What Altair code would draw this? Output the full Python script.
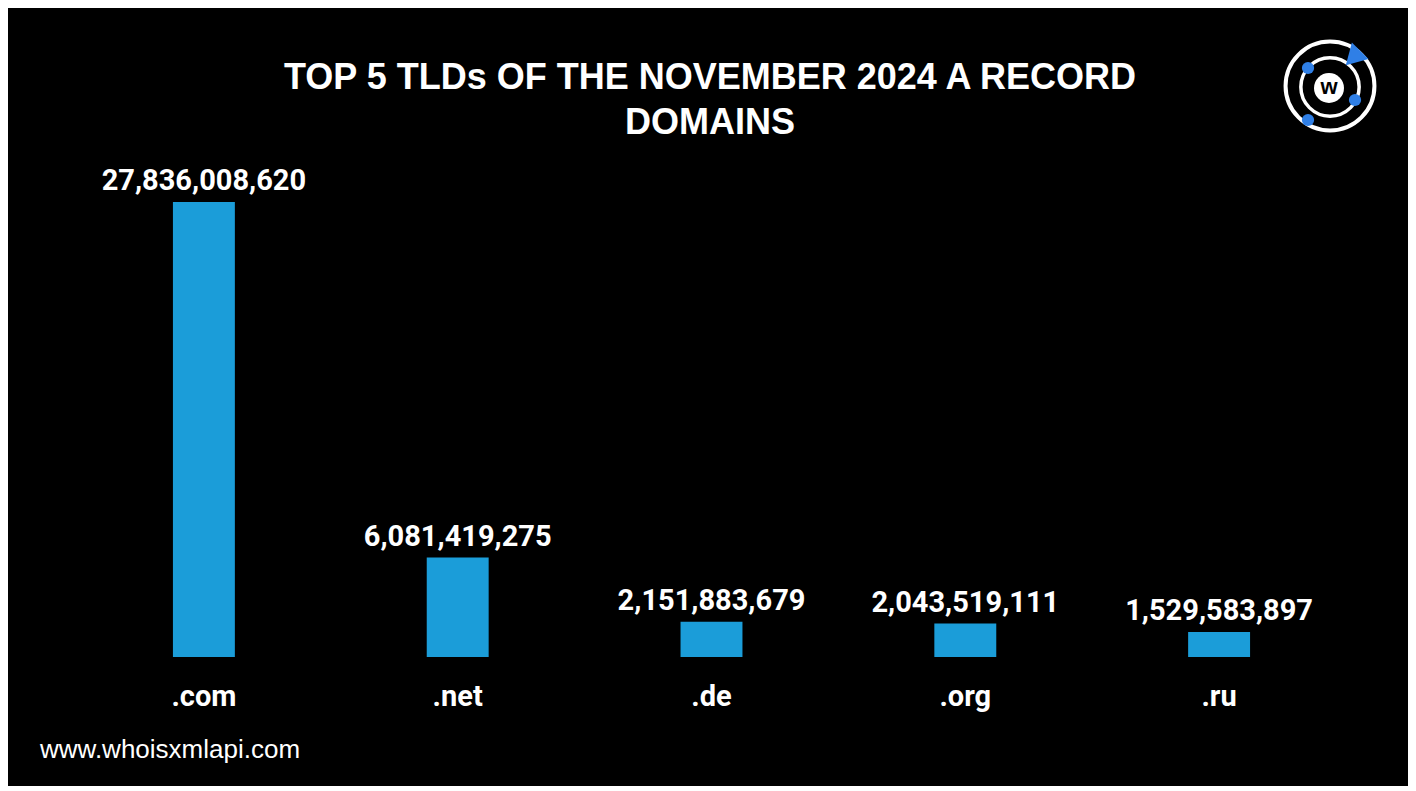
import altair as alt
import pandas as pd

tlds = [".com", ".net", ".de", ".org", ".ru"]
counts = [27836008620, 6081419275, 2151883679, 2043519111, 1529583897]

title_line1 = "TOP 5 TLDs OF THE NOVEMBER 2024 A RECORD"
title_line2 = "DOMAINS"
watermark = "www.whoisxmlapi.com"

df = pd.DataFrame({"tld": tlds, "count": counts})
df["label"] = [f"{v:,}" for v in counts]

W, H = 1269, 455
BLUE = "#1b9dd9"
NARROW = "Roboto, sans-serif"
ARIAL = "Liberation Sans, Arial, sans-serif"

x = alt.X("tld:N", sort=tlds, title=None,
          scale=alt.Scale(paddingInner=0.756, paddingOuter=0.378),
          axis=alt.Axis(labelAngle=0, labelColor="white", labelFont=NARROW,
                        labelFontSize=29, labelFontWeight="bold", labelPadding=25,
                        domain=False, ticks=False, grid=False))
y = alt.Y("count:Q", title=None, axis=None,
          scale=alt.Scale(domain=[0, max(counts)], nice=False, zero=True))

base = alt.Chart(df)
bars = base.mark_bar(color=BLUE).encode(x=x, y=y)
labels = base.mark_text(color="white", font=NARROW, fontSize=29, fontWeight="bold",
                        baseline="alphabetic", dy=-12).encode(x=x, y=y, text="label:N")


def title_text(txt, ypos):
    return alt.Chart(pd.DataFrame({"t": [txt]})).mark_text(
        color="white", font=ARIAL, fontSize=36, fontWeight="bold",
        baseline="middle", align="center").encode(
        x=alt.value(633), y=alt.value(ypos), text="t:N")


t1 = title_text(title_line1, -124)
t2 = title_text(title_line2, -79)

wm = alt.Chart(pd.DataFrame({"t": [watermark]})).mark_text(
    color="white", font=ARIAL, fontSize=26,
    align="left", baseline="middle").encode(
    x=alt.value(-37), y=alt.value(548), text="t:N")

# logo (decoration)
cx, cy = 1253, -116
logo_df = pd.DataFrame({"k": [0]})
LB = "#2f7fe6"
ring_outer = alt.Chart(logo_df).mark_point(shape="circle", filled=False, color="white",
                                           strokeWidth=4, size=7900, opacity=1).encode(
    x=alt.value(cx), y=alt.value(cy))
ring_inner = alt.Chart(logo_df).mark_point(shape="circle", filled=False, color="white",
                                           strokeWidth=3.5, size=3400, opacity=1).encode(
    x=alt.value(cx), y=alt.value(cy + 1))
core = alt.Chart(logo_df).mark_point(shape="circle", filled=True, color="white",
                                     size=900, opacity=1).encode(
    x=alt.value(cx - 1), y=alt.value(cy + 2))
wtxt = alt.Chart(pd.DataFrame({"t": ["w"]})).mark_text(
    color="black", font=ARIAL, fontSize=22, fontWeight="bold",
    baseline="middle", dy=-1).encode(x=alt.value(cx - 1), y=alt.value(cy + 2), text="t:N")
dot1 = alt.Chart(logo_df).mark_point(shape="circle", filled=True, color=LB,
                                     size=150, opacity=1).encode(x=alt.value(cx - 22), y=alt.value(cy - 18))
dot2 = alt.Chart(logo_df).mark_point(shape="circle", filled=True, color=LB,
                                     size=150, opacity=1).encode(x=alt.value(cx + 25), y=alt.value(cy + 14))
dot3 = alt.Chart(logo_df).mark_point(shape="circle", filled=True, color=LB,
                                     size=150, opacity=1).encode(x=alt.value(cx - 22), y=alt.value(cy + 34))
wedge = alt.Chart(logo_df).mark_point(shape="triangle-down", filled=True, color=LB,
                                      size=550, opacity=1, angle=45).encode(
    x=alt.value(cx + 23), y=alt.value(cy - 28))

chart = alt.layer(bars, labels, t1, t2, wm, ring_outer, ring_inner, core, wtxt,
                  dot1, dot2, dot3, wedge).properties(
    width=W, height=H,
    padding={"left": 69, "top": 194, "right": 62, "bottom": 129},
    autosize=alt.AutoSizeParams(type="none"),
).configure(background="black").configure_view(stroke=None)

chart.save("out.html", embed_options={"renderer": "svg", "actions": False})
